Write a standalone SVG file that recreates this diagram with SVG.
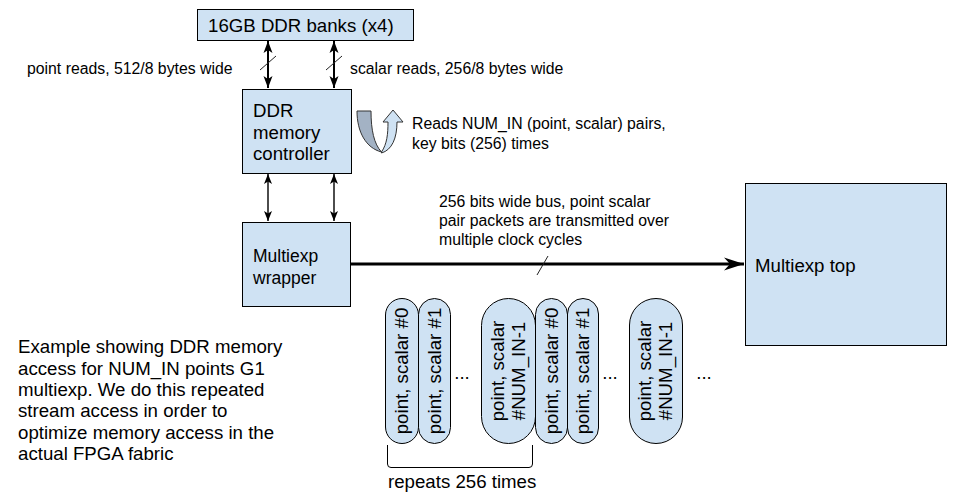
<svg xmlns="http://www.w3.org/2000/svg" width="964" height="494" viewBox="0 0 964 494">
<style>
text{font-family:"Liberation Sans",Arial,sans-serif;fill:#000}
.box{fill:#cfe2f3;stroke:#000;stroke-width:1}
.pill{fill:#cfe2f3;stroke:#000;stroke-width:1}
.lbl{font-size:15.8px}
.big{font-size:18.67px}
.conn{stroke:#000;fill:none}
.slash{stroke:#222;stroke-width:1;fill:none}
</style>
<defs>
<marker id="ah" markerUnits="userSpaceOnUse" viewBox="-13 -6 14 12" refX="0" refY="0" markerWidth="14" markerHeight="12" orient="auto-start-reverse">
<path d="M0,0 L-12,-4.5 L-9,0 L-12,4.5 Z" fill="#000"/>
</marker>
<marker id="ahs" markerUnits="userSpaceOnUse" viewBox="-11 -5 12 10" refX="0" refY="0" markerWidth="12" markerHeight="10" orient="auto-start-reverse">
<path d="M0,0 L-10,-4 L-7.5,0 L-10,4 Z" fill="#000"/>
</marker>
<marker id="ahb" markerUnits="userSpaceOnUse" viewBox="-21 -7 22 14" refX="0" refY="0" markerWidth="22" markerHeight="14" orient="auto">
<path d="M0,0 L-20,-6.5 L-14,0 L-20,6.5 Z" fill="#000"/>
</marker>
</defs>

<g id="connectors">
<line class="conn" x1="268" y1="41" x2="268" y2="88" stroke-width="2" marker-start="url(#ah)" marker-end="url(#ah)"/>
<line class="conn" x1="334" y1="41" x2="334" y2="88" stroke-width="2" marker-start="url(#ah)" marker-end="url(#ah)"/>
<line class="slash" x1="260" y1="70" x2="276" y2="56"/>
<line class="slash" x1="326" y1="70" x2="342" y2="56"/>
<line class="conn" x1="268" y1="174" x2="268" y2="221" stroke-width="1.4" marker-start="url(#ahs)" marker-end="url(#ahs)"/>
<line class="conn" x1="334" y1="174" x2="334" y2="221" stroke-width="1.4" marker-start="url(#ahs)" marker-end="url(#ahs)"/>
<line class="conn" x1="350" y1="264" x2="744" y2="264" stroke-width="3" marker-end="url(#ahb)"/>
<line class="slash" x1="537" y1="275" x2="548" y2="256"/>
</g>

<g id="ddr-banks">
<rect class="box" x="197.5" y="9.5" width="216" height="31"/>
<text class="big" x="208" y="32">16GB DDR banks (x4)</text>
</g>

<g id="label-point-reads"><text class="lbl" x="27" y="74">point reads, 512/8 bytes wide</text></g>
<g id="label-scalar-reads"><text class="lbl" x="350" y="74">scalar reads, 256/8 bytes wide</text></g>

<g id="ddr-controller">
<rect class="box" x="242.5" y="89.5" width="109" height="84"/>
<text class="big" x="253" y="117">DDR</text>
<text class="big" x="253" y="138.5">memory</text>
<text class="big" x="253" y="160">controller</text>
</g>

<g id="uturn-arrow">
<path d="M357,111 L371,111 C371,130 374,144 381.5,152 C366,148 357,132 357,111 Z" fill="#a3b2c4" stroke="#333" stroke-width="1"/>
<path d="M381.5,152 C387,144 388,134 388,122 L383,122 L393,110 L403,122 L397,122 C397,138 392,150 381.5,153 Z" fill="#cfe2f3" stroke="#333" stroke-width="1"/>
</g>
<g id="label-reads">
<text class="lbl" x="412" y="129">Reads NUM_IN (point, scalar) pairs,</text>
<text class="lbl" x="412" y="148.5">key bits (256) times</text>
</g>

<g id="multiexp-wrapper">
<rect class="box" x="242.5" y="222.5" width="108" height="84"/>
<text x="253" y="262" font-size="17.5">Multiexp</text>
<text x="253" y="284" font-size="17.5">wrapper</text>
</g>

<g id="label-bus">
<text class="lbl" x="439" y="207">256 bits wide bus, point scalar</text>
<text class="lbl" x="439" y="226">pair packets are transmitted over</text>
<text class="lbl" x="439" y="245">multiple clock cycles</text>
</g>

<g id="multiexp-top">
<rect class="box" x="745.5" y="183.5" width="201" height="162"/>
<text class="big" x="755" y="272">Multiexp top</text>
</g>

<g id="pill-0a">
<rect class="pill" x="385.5" y="298.5" width="33" height="145" rx="16.5" ry="16.5"/>
<text class="big" text-anchor="middle" transform="translate(402,371) rotate(-90)" y="6.3">point, scalar #0</text>
</g>
<g id="pill-1a">
<rect class="pill" x="418.5" y="298.5" width="32" height="145" rx="16" ry="16"/>
<text class="big" text-anchor="middle" transform="translate(434.5,371) rotate(-90)" y="6.3">point, scalar #1</text>
</g>
<g id="dots-1"><text class="big" x="462" y="379" text-anchor="middle">...</text></g>
<g id="pill-na">
<rect class="pill" x="481.5" y="298.5" width="54" height="145" rx="27" ry="27"/>
<text class="big" text-anchor="middle" transform="translate(508.5,371) rotate(-90)" y="-5">point, scalar</text>
<text class="big" text-anchor="middle" transform="translate(508.5,371) rotate(-90)" y="16.3">#NUM_IN-1</text>
</g>
<g id="pill-0b">
<rect class="pill" x="535.5" y="298.5" width="32" height="145" rx="16" ry="16"/>
<text class="big" text-anchor="middle" transform="translate(551.5,371) rotate(-90)" y="6.3">point, scalar #0</text>
</g>
<g id="pill-1b">
<rect class="pill" x="567.5" y="298.5" width="31" height="145" rx="15.5" ry="15.5"/>
<text class="big" text-anchor="middle" transform="translate(583,371) rotate(-90)" y="6.3">point, scalar #1</text>
</g>
<g id="dots-2"><text class="big" x="610" y="379" text-anchor="middle">...</text></g>
<g id="pill-nb">
<rect class="pill" x="629.5" y="298.5" width="53" height="145" rx="26.5" ry="26.5"/>
<text class="big" text-anchor="middle" transform="translate(656,371) rotate(-90)" y="-5">point, scalar</text>
<text class="big" text-anchor="middle" transform="translate(656,371) rotate(-90)" y="16.3">#NUM_IN-1</text>
</g>
<g id="dots-3"><text class="big" x="704" y="379" text-anchor="middle">...</text></g>

<g id="brace">
<path d="M387.5,445 L387.5,464 Q387.5,467.5 391,467.5 L529,467.5 Q532.5,467.5 532.5,464 L532.5,445" fill="none" stroke="#000" stroke-width="1"/>
<text class="big" x="388" y="488">repeats 256 times</text>
</g>

<g id="note">
<text class="big" x="18" y="353.3">Example showing DDR memory</text>
<text class="big" x="18" y="374.6">access for NUM_IN points G1</text>
<text class="big" x="18" y="396">multiexp. We do this repeated</text>
<text class="big" x="18" y="417.3">stream access in order to</text>
<text class="big" x="18" y="438.6">optimize memory access in the</text>
<text class="big" x="18" y="460">actual FPGA fabric</text>
</g>
</svg>
